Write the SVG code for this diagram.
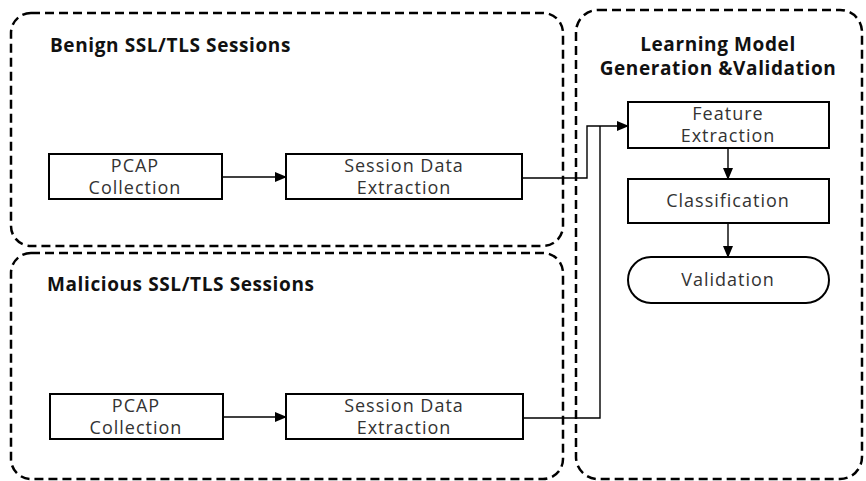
<svg xmlns="http://www.w3.org/2000/svg" width="866" height="481" viewBox="0 0 866 481">
<defs>
<marker id="arr" markerWidth="12" markerHeight="12" refX="11" refY="6" orient="auto" markerUnits="userSpaceOnUse">
<path d="M0,1 L12,6 L0,11 Z" fill="#000"/>
</marker>
<style>
.grp{fill:none;stroke:#000;stroke-width:2.5;stroke-dasharray:9 5}
.box{fill:#fff;stroke:#000;stroke-width:2}
.lbl{font-family:"Open Sans","Noto Sans","DejaVu Sans",sans-serif;font-size:18px;letter-spacing:1px;fill:#333;text-anchor:middle}
.ttl{font-family:"Open Sans","Noto Sans","DejaVu Sans",sans-serif;font-size:19px;letter-spacing:0.6px;font-weight:bold;fill:#111}
.con{fill:none;stroke:#000;stroke-width:1.4}
</style>
</defs>
<rect width="866" height="481" fill="#fff"/>
<g id="benign-group">
<rect class="grp" x="11" y="13" width="552" height="233" rx="20"/>
<text class="ttl" x="50" y="52">Benign SSL/TLS Sessions</text>
</g>
<g id="malicious-group">
<rect class="grp" x="11" y="253" width="552" height="226" rx="20"/>
<text class="ttl" x="47" y="291">Malicious SSL/TLS Sessions</text>
</g>
<g id="learning-group">
<rect class="grp" x="576" y="10" width="286" height="469" rx="22"/>
<text class="ttl" x="718" y="51" text-anchor="middle">Learning Model</text>
<text class="ttl" x="718" y="75" text-anchor="middle">Generation &amp;Validation</text>
</g>
<g id="connectors">
<line class="con" x1="222" y1="177" x2="286" y2="177" marker-end="url(#arr)"/>
<line class="con" x1="223" y1="417" x2="286" y2="417" marker-end="url(#arr)"/>
<polyline class="con" points="522,178 587,178 587,126 628,126" marker-end="url(#arr)"/>
<polyline class="con" points="523,418 600,418 600,126" stroke="#666"/>
<line class="con" x1="728" y1="148" x2="728" y2="179" marker-end="url(#arr)"/>
<line class="con" x1="728" y1="223" x2="728" y2="257" marker-end="url(#arr)"/>
</g>
<g id="b-pcap">
<rect class="box" x="49" y="154" width="173" height="45"/>
<text class="lbl" x="135" y="172">PCAP</text>
<text class="lbl" x="135" y="194">Collection</text>
</g>
<g id="b-session">
<rect class="box" x="286" y="154" width="236" height="45"/>
<text class="lbl" x="404" y="172">Session Data</text>
<text class="lbl" x="404" y="194">Extraction</text>
</g>
<g id="m-pcap">
<rect class="box" x="50" y="394" width="173" height="45"/>
<text class="lbl" x="136" y="412">PCAP</text>
<text class="lbl" x="136" y="434">Collection</text>
</g>
<g id="m-session">
<rect class="box" x="286" y="394" width="237" height="45"/>
<text class="lbl" x="404" y="412">Session Data</text>
<text class="lbl" x="404" y="434">Extraction</text>
</g>
<g id="feature">
<rect class="box" x="628" y="102" width="201" height="46"/>
<text class="lbl" x="728" y="120">Feature</text>
<text class="lbl" x="728" y="142">Extraction</text>
</g>
<g id="classification">
<rect class="box" x="628" y="179" width="201" height="44"/>
<text class="lbl" x="728" y="207">Classification</text>
</g>
<g id="validation">
<rect class="box" x="628" y="257" width="201" height="46" rx="23"/>
<text class="lbl" x="728" y="286">Validation</text>
</g>
</svg>
